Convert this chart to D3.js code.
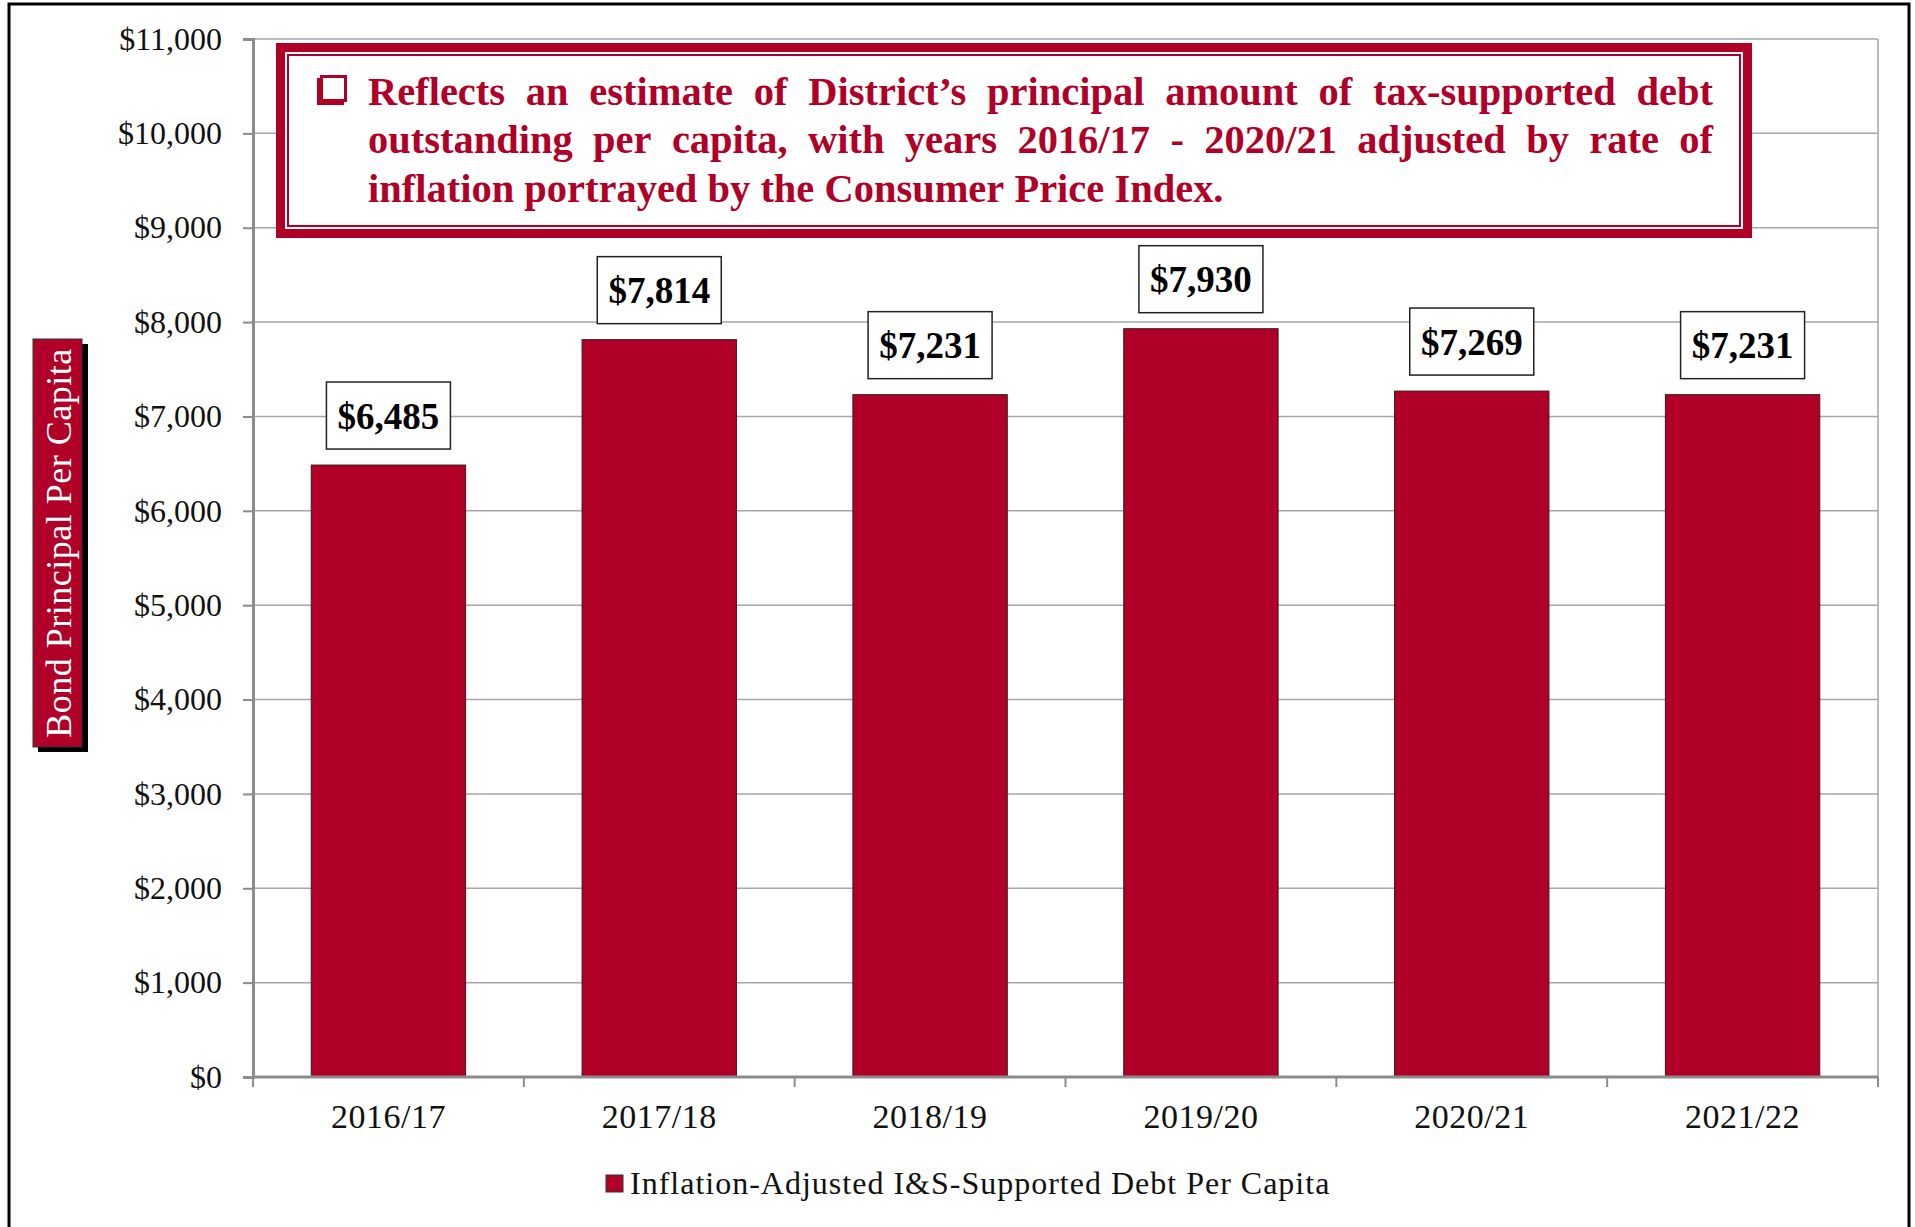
<!DOCTYPE html>
<html>
<head>
<meta charset="utf-8">
<script src="https://cdn.jsdelivr.net/npm/d3@7"></script>
<style>
body { margin: 0; background: #fff; }
text { font-family: "Liberation Serif", "Times New Roman", serif; }
</style>
</head>
<body>
<script>
// chart data
var years = ["2016/17", "2017/18", "2018/19", "2019/20", "2020/21", "2021/22"];
var debtPerCapita = [6485, 7814, 7231, 7930, 7269, 7231];
var yTicks = [0, 1000, 2000, 3000, 4000, 5000, 6000, 7000, 8000, 9000, 10000, 11000];
var seriesName = "Inflation-Adjusted I&S-Supported Debt Per Capita";
var axisTitle = "Bond Principal Per Capita";
var noteLines = [
  "Reflects an estimate of District\u2019s principal amount of tax-supported debt",
  "outstanding per capita, with years 2016/17 - 2020/21 adjusted by rate of",
  "inflation portrayed by the Consumer Price Index."
];

var red = "#b00028";
var W = 1915, H = 1227;
var plotLeft = 253, plotRight = 1878, plotTop = 39, plotBottom = 1077;

var svg = d3.select("body").append("svg")
    .attr("width", W)
    .attr("height", H);

// outer frame
svg.append("rect")
    .attr("x", 9).attr("y", 4)
    .attr("width", 1900).attr("height", 1240)
    .attr("fill", "#fff")
    .attr("stroke", "#000")
    .attr("stroke-width", 3);

var x = d3.scaleBand()
    .domain(years)
    .range([plotLeft, plotRight])
    .paddingInner(0.43)
    .paddingOuter(0.215);

var y = d3.scaleLinear()
    .domain([0, 11000])
    .range([plotBottom, plotTop]);

// gridlines
svg.append("g").selectAll("line")
  .data(yTicks.slice(1))
  .join("line")
    .attr("x1", plotLeft).attr("x2", plotRight)
    .attr("y1", d => y(d)).attr("y2", d => y(d))
    .attr("stroke", "#a6a6a6")
    .attr("stroke-width", 1.5);

// right edge of plot area
svg.append("line")
    .attr("x1", plotRight).attr("x2", plotRight)
    .attr("y1", y(11000)).attr("y2", y(0))
    .attr("stroke", "#a6a6a6")
    .attr("stroke-width", 1.5);

// y axis
var yAxis = svg.append("g")
    .attr("transform", "translate(" + plotLeft + ",0)")
    .call(d3.axisLeft(y)
      .tickValues(yTicks)
      .tickFormat(d => "$" + d3.format(",")(d))
      .tickSize(10)
      .tickPadding(21));
yAxis.select(".domain").attr("stroke", "#8c8c8c").attr("stroke-width", 3);
yAxis.selectAll(".tick line").attr("stroke", "#8c8c8c").attr("stroke-width", 2);
yAxis.selectAll("text")
    .attr("font-family", "Liberation Serif")
    .attr("font-size", 32)
    .attr("fill", "#111");

// bars
svg.append("g").selectAll("rect")
  .data(years)
  .join("rect")
    .attr("x", d => x(d))
    .attr("y", (d, i) => y(debtPerCapita[i]))
    .attr("width", x.bandwidth())
    .attr("height", (d, i) => y(0) - y(debtPerCapita[i]))
    .attr("fill", red)
    .attr("stroke", "#3a1a1a")
    .attr("stroke-width", 1);

// x axis
var xAxis = svg.append("g")
    .attr("transform", "translate(0," + plotBottom + ")")
    .call(d3.axisBottom(x).tickSize(0).tickPadding(27));
xAxis.select(".domain").remove();
xAxis.selectAll("text")
    .attr("font-family", "Liberation Serif")
    .attr("font-size", 34)
    .attr("letter-spacing", 0.5)
    .attr("fill", "#111");

svg.append("line")
    .attr("x1", plotLeft).attr("x2", plotRight)
    .attr("y1", plotBottom).attr("y2", plotBottom)
    .attr("stroke", "#8c8c8c")
    .attr("stroke-width", 3);

// category boundary ticks
var bounds = years.map(d => x(d) - x.step() * x.paddingInner() / 2);
bounds.push(plotRight);
svg.append("g").selectAll("line")
  .data(bounds)
  .join("line")
    .attr("x1", d => d).attr("x2", d => d)
    .attr("y1", plotBottom).attr("y2", plotBottom + 10)
    .attr("stroke", "#8c8c8c")
    .attr("stroke-width", 2);

// value labels
var labels = svg.append("g").selectAll("g")
  .data(years)
  .join("g");
labels.append("rect")
    .attr("x", d => x(d) + x.bandwidth() / 2 - 62)
    .attr("y", (d, i) => y(debtPerCapita[i]) - 16 - 67)
    .attr("width", 124)
    .attr("height", 67)
    .attr("fill", "#fff")
    .attr("stroke", "#222")
    .attr("stroke-width", 1.5);
labels.append("text")
    .attr("x", d => x(d) + x.bandwidth() / 2)
    .attr("y", (d, i) => y(debtPerCapita[i]) - 16 - 33.5)
    .attr("dy", "0.35em")
    .attr("text-anchor", "middle")
    .attr("font-weight", "bold")
    .attr("font-size", 37)
    .attr("fill", "#000")
    .text((d, i) => "$" + d3.format(",")(debtPerCapita[i]));

// note box
var note = svg.append("g");
note.append("rect")
    .attr("x", 280.5).attr("y", 47.5)
    .attr("width", 1467).attr("height", 186)
    .attr("fill", "#fff")
    .attr("stroke", red)
    .attr("stroke-width", 9);
note.append("rect")
    .attr("x", 288).attr("y", 55)
    .attr("width", 1452).attr("height", 171)
    .attr("fill", "none")
    .attr("stroke", red)
    .attr("stroke-width", 2);

// bullet square
note.append("rect")
    .attr("x", 317).attr("y", 78)
    .attr("width", 27).attr("height", 27)
    .attr("fill", red);
note.append("rect")
    .attr("x", 321.5).attr("y", 76.5)
    .attr("width", 24).attr("height", 24)
    .attr("fill", "#fff")
    .attr("stroke", red)
    .attr("stroke-width", 3);

var textLeft = 368, textRight = 1713;
var noteBase = [105, 153, 202];
var noteSize = 36;

// fit the last line to its width in the reference
var probe = note.append("text")
    .attr("font-weight", "bold")
    .attr("font-size", noteSize)
    .text(noteLines[2]);
noteSize = noteSize * 855 / probe.node().getComputedTextLength();
probe.remove();

noteLines.forEach(function(line, li) {
  var words = line.split(" ");
  var t = note.append("g");
  var nodes = words.map(w => t.append("text")
      .attr("y", noteBase[li])
      .attr("font-weight", "bold")
      .attr("font-size", noteSize)
      .attr("fill", red)
      .text(w));
  var widths = nodes.map(n => n.node().getComputedTextLength());
  var total = d3.sum(widths);
  var space = noteSize * 0.25;
  if (li < 2) space = (textRight - textLeft - total) / (words.length - 1);
  var cx = textLeft;
  nodes.forEach(function(n, i) {
    n.attr("x", cx);
    cx += widths[i] + space;
  });
});

// y axis title box
var titleG = svg.append("g");
titleG.append("rect")
    .attr("x", 38).attr("y", 344)
    .attr("width", 50).attr("height", 408)
    .attr("fill", "#000");
titleG.append("rect")
    .attr("x", 33).attr("y", 339)
    .attr("width", 49).attr("height", 408)
    .attr("fill", red)
    .attr("stroke", "#333")
    .attr("stroke-width", 1);
titleG.append("text")
    .attr("transform", "translate(58.5,543) rotate(-90)")
    .attr("text-anchor", "middle")
    .attr("dy", "0.35em")
    .attr("font-size", 36)
    .attr("letter-spacing", 0.5)
    .attr("fill", "#fff")
    .text(axisTitle);

// legend
var legend = svg.append("g");
legend.append("rect")
    .attr("x", 606).attr("y", 1175)
    .attr("width", 17).attr("height", 17)
    .attr("fill", red)
    .attr("stroke", "#333")
    .attr("stroke-width", 1);
legend.append("text")
    .attr("x", 630).attr("y", 1183)
    .attr("dy", "0.35em")
    .attr("font-size", 32)
    .attr("letter-spacing", 1)
    .attr("fill", "#111")
    .text(seriesName);
</script>
</body>
</html>
